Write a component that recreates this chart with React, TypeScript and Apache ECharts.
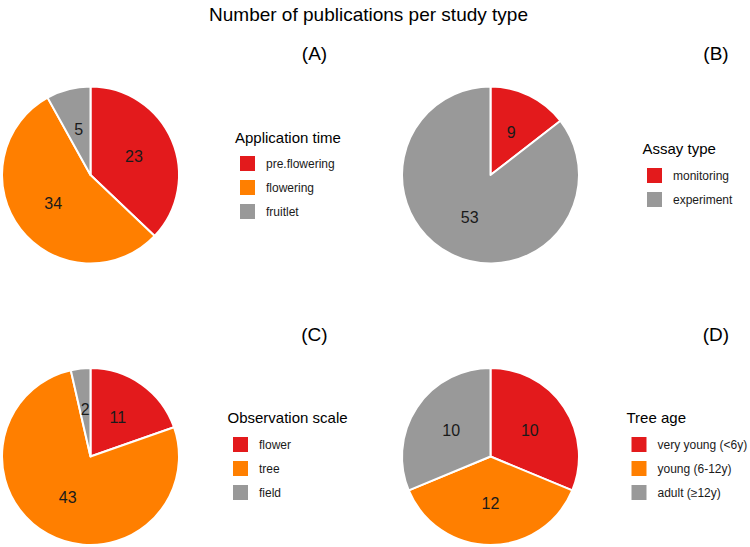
import React, { useEffect, useRef } from "react";
import * as echarts from "echarts";

const mainTitle = "Number of publications per study type";
const panelLabels = ["(A)", "(B)", "(C)", "(D)"];
const legendTitles = ["Application time", "Assay type", "Observation scale", "Tree age"];

const appTimeNames = ["pre.flowering", "flowering", "fruitlet"];
const appTimeValues = [23, 34, 5];
const assayNames = ["monitoring", "experiment"];
const assayValues = [9, 53];
const scaleNames = ["flower", "tree", "field"];
const scaleValues = [11, 43, 2];
const ageNames = ["very young (<6y)", "young (6-12y)", "adult (≥12y)"];
const ageValues = [10, 12, 10];

const RED = "#E31A1C";
const ORANGE = "#FF7F00";
const GREY = "#999999";

const FONT = "'Liberation Sans', Arial, Helvetica, sans-serif";

type Panel = {
  names: string[];
  values: number[];
  colors: string[];
  center: [number, number];
  labelPos: [number, number];
  legendTitlePos: [number, number];
  legendPos: [number, number];
};

const panels: Panel[] = [
  {
    names: appTimeNames,
    values: appTimeValues,
    colors: [RED, ORANGE, GREY],
    center: [90.5, 175],
    labelPos: [314.5, 53],
    legendTitlePos: [235, 137],
    legendPos: [238, 154],
  },
  {
    names: assayNames,
    values: assayValues,
    colors: [RED, GREY],
    center: [490.5, 175],
    labelPos: [716, 53],
    legendTitlePos: [642.5, 148],
    legendPos: [645, 166],
  },
  {
    names: scaleNames,
    values: scaleValues,
    colors: [RED, ORANGE, GREY],
    center: [90.5, 456.5],
    labelPos: [314.5, 334],
    legendTitlePos: [227.5, 417],
    legendPos: [231, 435],
  },
  {
    names: ageNames,
    values: ageValues,
    colors: [RED, ORANGE, GREY],
    center: [490.5, 456.5],
    labelPos: [716, 334],
    legendTitlePos: [626.5, 417],
    legendPos: [629.5, 435],
  },
];

export default function App() {
  const ref = useRef<HTMLDivElement>(null);

  useEffect(() => {
    if (!ref.current) return;
    const chart = echarts.init(ref.current, undefined, { renderer: "svg" });

    const series = panels.map((p) => ({
      type: "pie",
      center: p.center,
      radius: 88.5,
      startAngle: 90,
      clockwise: true,
      avoidLabelOverlap: false,
      silent: true,
      emphasis: { disabled: true },
      itemStyle: { borderColor: "#ffffff", borderWidth: 2 },
      label: {
        show: true,
        position: "inside",
        formatter: "{c}",
        color: "#1a1a1a",
        fontSize: 16,
        fontFamily: FONT,
      },
      labelLine: { show: false },
      data: p.names.map((n, i) => ({
        name: n,
        value: p.values[i],
        itemStyle: { color: p.colors[i] },
      })),
    }));

    const legends = panels.map((p) => ({
      orient: "vertical",
      left: p.legendPos[0],
      top: p.legendPos[1],
      padding: 0,
      itemWidth: 17,
      itemHeight: 17,
      itemGap: 5,
      icon: "rect",
      selectedMode: false,
      data: p.names,
      textStyle: {
        fontSize: 12,
        lineHeight: 15,
        fontFamily: FONT,
        color: "#1a1a1a",
        padding: [0, 0, 0, 5],
      },
    }));

    const graphics: any[] = [
      {
        type: "text",
        style: {
          x: 368.5,
          y: 14.5,
          text: mainTitle,
          fontSize: 19,
          fontFamily: FONT,
          fill: "#000",
          textAlign: "center",
          textVerticalAlign: "middle",
        },
      },
    ];
    panels.forEach((p, i) => {
      graphics.push({
        type: "text",
        style: {
          x: p.labelPos[0],
          y: p.labelPos[1],
          text: panelLabels[i],
          fontSize: 19,
          fontFamily: FONT,
          fill: "#000",
          textAlign: "center",
          textVerticalAlign: "middle",
        },
      });
      graphics.push({
        type: "text",
        style: {
          x: p.legendTitlePos[0],
          y: p.legendTitlePos[1],
          text: legendTitles[i],
          fontSize: 15,
          fontFamily: FONT,
          fill: "#000",
          textAlign: "left",
          textVerticalAlign: "middle",
        },
      });
    });

    chart.setOption({
      animation: false,
      backgroundColor: "#ffffff",
      legend: legends,
      series,
      graphic: graphics,
    });

    return () => chart.dispose();
  }, []);

  return (
    <div
      ref={ref}
      style={{ position: "fixed", left: 0, top: 0, width: 750, height: 547 }}
    />
  );
}
